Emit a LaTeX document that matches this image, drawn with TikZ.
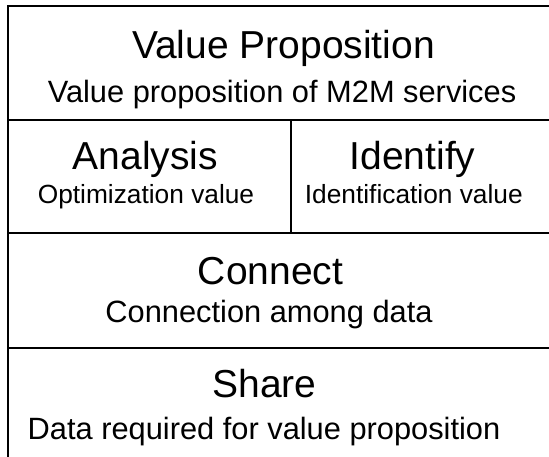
\documentclass[tikz,border=0pt]{standalone}
\usepackage{fontspec}
\setmainfont{Liberation Sans}
\begin{document}
\begin{tikzpicture}[x=1pt,y=-1pt,
  frame/.style={draw=black,line width=2pt},
  headtext/.style={anchor=base,inner sep=0pt,font=\fontsize{39}{45}\selectfont},
  subtext/.style={anchor=base,inner sep=0pt,font=\fontsize{30.8}{36}\selectfont},
  smalltext/.style={anchor=base,inner sep=0pt,font=\fontsize{26.3}{31}\selectfont}]
\useasboundingbox (0,0) rectangle (549,457);
\clip (0,0) rectangle (549,457);

% outer frame corners and layer borders
\coordinate (tl) at (8.3,6.5);
\coordinate (tr) at (565,6.5);
\coordinate (bl) at (8.3,470);
\coordinate (l1) at (8.3,120);
\coordinate (r1) at (565,120);
\coordinate (l2) at (8.3,233);
\coordinate (r2) at (565,233);
\coordinate (l3) at (8.3,347.5);
\coordinate (r3) at (565,347.5);
\coordinate (dtop) at (290.5,120);
\coordinate (dbot) at (290.5,233);

\draw[frame] (bl) -- (tl) -- (tr);
\draw[frame] (l1) -- (r1);
\draw[frame] (l2) -- (r2);
\draw[frame] (l3) -- (r3);
\draw[frame] (dtop) -- (dbot);

% layer texts
\node[headtext] (vp) at (283.5,58.5) {Value Proposition};
\node[subtext] (vps) at (282,103) {Value proposition of M2M services};
\node[headtext] (an) at (145.5,170) {Analysis};
\node[smalltext] (ans) at (146,204) {Optimization value};
\node[headtext] (id) at (412.5,170) {Identify};
\node[smalltext] (ids) at (413.8,204) {Identification value};
\node[headtext] (co) at (270.5,284) {Connect};
\node[subtext] (cos) at (269,322) {Connection among data};
\node[headtext] (sh) at (264.5,397) {Share};
\node[subtext] (shs) at (264,439) {Data required for value proposition};
\end{tikzpicture}
\end{document}
